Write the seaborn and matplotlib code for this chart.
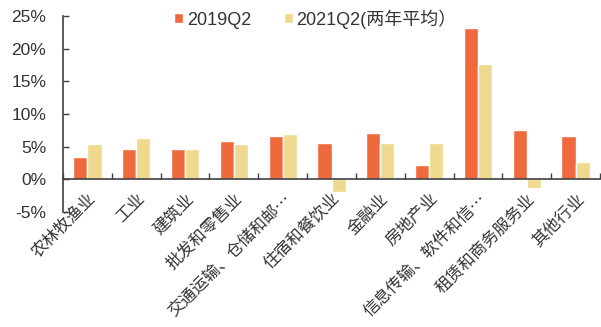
import matplotlib
matplotlib.use("Agg")
import matplotlib.pyplot as plt
import matplotlib.transforms as mtransforms
import seaborn as sns
import pandas as pd
from matplotlib.ticker import PercentFormatter

categories = ["农林牧渔业", "工业", "建筑业", "批发和零售业", "交通运输、仓储和邮…",
              "住宿和餐饮业", "金融业", "房地产业", "信息传输、软件和信…",
              "租赁和商务服务业", "其他行业"]
series_names = ["2019Q2", "2021Q2(两年平均）"]
v2019 = [3.4, 4.7, 4.7, 5.9, 6.6, 5.6, 7.1, 2.2, 23.2, 7.5, 6.6]
v2021 = [5.4, 6.4, 4.7, 5.4, 7.0, -1.9, 5.6, 5.5, 17.6, -1.3, 2.6]
yticks = [-5, 0, 5, 10, 15, 20, 25]
colors = ["#EE6A3C", "#EED98E"]

df = pd.DataFrame({
    "行业": categories * 2,
    "增速": v2019 + v2021,
    "期间": [series_names[0]] * len(categories) + [series_names[1]] * len(categories),
})

sns.set_theme(style="white")
plt.rcParams["font.family"] = ["Liberation Sans", "Noto Sans CJK SC"]
plt.rcParams["axes.unicode_minus"] = False

fig = plt.figure(figsize=(6.01, 3.27), dpi=100)
ax = fig.add_axes([63 / 601, 1 - 212 / 327, 537 / 601, 196 / 327])

sns.barplot(data=df, x="行业", y="增速", hue="期间", palette=colors,
            width=0.58, gap=0, saturation=1, ax=ax)

ax.set_ylim(-5, 25)
ax.set_xlim(-0.5, len(categories) - 0.5)
ax.set_yticks(yticks)
ax.yaxis.set_major_formatter(PercentFormatter(decimals=0))
ax.set_xlabel("")
ax.set_ylabel("")

for s in ["top", "right"]:
    ax.spines[s].set_visible(False)
ax.spines["bottom"].set_position(("data", 0))
for s in ["left", "bottom"]:
    ax.spines[s].set_color("#404040")
    ax.spines[s].set_linewidth(1.2)

# category boundaries carry the tick marks; labels sit at the centres
ax.set_xticks([i - 0.5 for i in range(len(categories) + 1)], minor=True)
ax.set_xticks(range(len(categories)))
ax.set_xticklabels(categories, rotation=45, ha="right", va="top",
                   rotation_mode="anchor", fontsize=12, color="#333333",
                   family=["Noto Sans CJK SC", "DejaVu Sans"])
shift = mtransforms.ScaledTranslation(-7 / 100, 0, fig.dpi_scale_trans)
for lbl in ax.get_xticklabels():
    lbl.set_transform(lbl.get_transform() + shift)
ax.tick_params(axis="x", which="major", length=0, pad=8)
ax.tick_params(axis="x", which="minor", direction="in", length=4,
               width=1, color="#404040")
ax.tick_params(axis="y", direction="in", length=4, width=1, color="#404040",
               labelsize=12.5, labelcolor="#333333", pad=12)
ax.tick_params(left=True, bottom=False)
ax.tick_params(axis="x", which="minor", bottom=True)

leg = ax.legend(loc="center", bbox_to_anchor=(0.47, 0.985), ncol=2,
                frameon=False, fontsize=13, handlelength=0.5, handleheight=0.5,
                handletextpad=0.2, columnspacing=1.8, borderaxespad=0)
for t in leg.get_texts():
    t.set_color("#333333")

fig.savefig("out.png", dpi=100)
